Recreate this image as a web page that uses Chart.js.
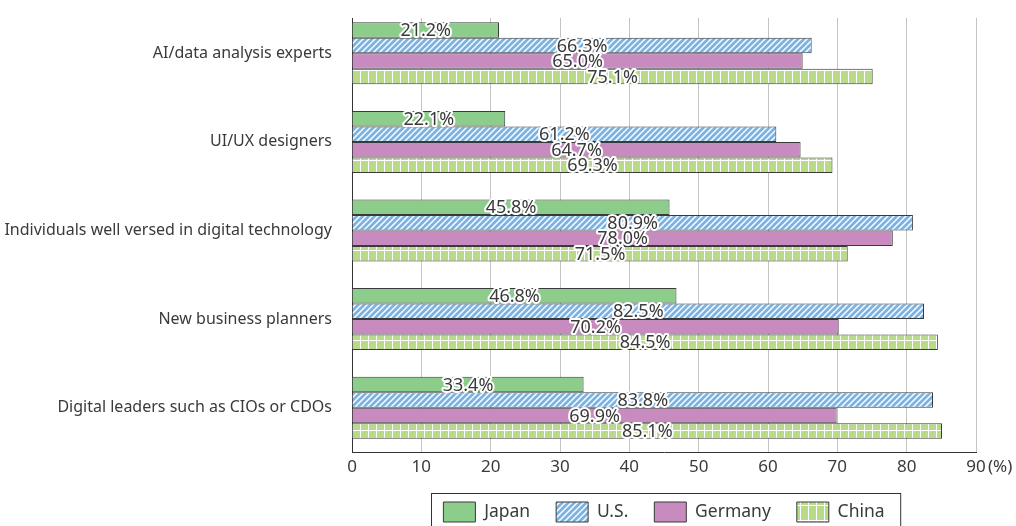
<!DOCTYPE html>
<html>
<head>
<meta charset="utf-8">
<script src="https://cdn.jsdelivr.net/npm/chart.js@4"></script>
<style>
  html, body { margin: 0; padding: 0; background: #fff; overflow: hidden; }
  #wrap { width: 1016px; height: 532px; }
</style>
</head>
<body>
<div id="wrap"><canvas id="chart"></canvas></div>
<script>
const categories = [
    "AI/data analysis experts",
    "UI/UX designers",
    "Individuals well versed in digital technology",
    "New business planners",
    "Digital leaders such as CIOs or CDOs",
];
const japan = [21.2, 22.1, 45.8, 46.8, 33.4];
const us = [66.3, 61.2, 80.9, 82.5, 83.8];
const germany = [65.0, 64.7, 78.0, 70.2, 69.9];
const china = [75.1, 69.3, 71.5, 84.5, 85.1];
const xTicks = [0, 10, 20, 30, 40, 50, 60, 70, 80, 90];

const FONT = "'Noto Sans', 'DejaVu Sans', sans-serif";
const TEXT = "#3a3a3a";

const ctx = document.getElementById("chart");
const c2d = ctx.getContext("2d");

// diagonal white hatching (U.S.)
function hatch(bg) {
    const c = document.createElement("canvas");
    c.width = 6;
    c.height = 6;
    const x = c.getContext("2d");
    x.fillStyle = bg;
    x.fillRect(0, 0, 6, 6);
    x.strokeStyle = "#fff";
    x.lineWidth = 1.5;
    x.beginPath();
    x.moveTo(-1, 7); x.lineTo(7, -1);
    x.moveTo(-1, 1); x.lineTo(1, -1);
    x.moveTo(5, 7); x.lineTo(7, 5);
    x.stroke();
    return c2d.createPattern(c, "repeat");
}

// white vertical strokes with one horizontal stroke (China)
function cells(bg) {
    const c = document.createElement("canvas");
    c.width = 8;
    c.height = 15;
    const x = c.getContext("2d");
    x.fillStyle = bg;
    x.fillRect(0, 0, 8, 15);
    x.fillStyle = "#fff";
    x.fillRect(0, 0, 1, 15);
    x.fillRect(0, 10, 8, 1);
    return c2d.createPattern(c, "repeat");
}

const dataLabels = {
    id: "dataLabels",
    afterDatasetsDraw(chart) {
        const g = chart.ctx;
        g.save();
        g.font = "18px " + FONT;
        g.textAlign = "center";
        g.textBaseline = "middle";
        g.lineJoin = "round";
        chart.data.datasets.forEach((ds, i) => {
            chart.getDatasetMeta(i).data.forEach((bar, j) => {
                const txt = ds.data[j].toFixed(1) + "%";
                const cx = (bar.base + bar.x) / 2;
                g.strokeStyle = "#fff";
                g.lineWidth = 4;
                g.strokeText(txt, cx, bar.y + 1);
                g.fillStyle = TEXT;
                g.fillText(txt, cx, bar.y + 1);
            });
        });
        g.restore();
    },
};

const extras = {
    id: "extras",
    beforeDatasetsDraw(chart) {
        // grid starts a little below the top of the plot
        const a = chart.chartArea;
        const g = chart.ctx;
        g.save();
        g.fillStyle = "#fff";
        g.fillRect(a.left - 2, a.top - 1, a.right - a.left + 4, 10);
        g.restore();
    },
    afterDraw(chart) {
        const g = chart.ctx;
        const xs = chart.scales.x;
        g.save();
        g.font = "17px " + FONT;
        g.fillStyle = TEXT;
        g.textBaseline = "middle";
        g.textAlign = "left";
        g.fillText("(%)", xs.getPixelForValue(90) + 12, xs.bottom - 9);
        // box around the legend
        const boxes = chart.legend.legendHitBoxes;
        if (boxes.length) {
            const l = Math.min(...boxes.map(b => b.left)) - 12;
            const r = Math.max(...boxes.map(b => b.left + b.width)) + 16;
            const t = boxes[0].top - 9;
            g.strokeStyle = "#333";
            g.lineWidth = 1;
            g.strokeRect(Math.round(l) + 0.5, Math.round(t) + 0.5, r - l, 60);
        }
        g.restore();
    },
};

new Chart(ctx, {
    type: "bar",
    data: {
        labels: categories,
        datasets: [
            { label: "Japan", data: japan, backgroundColor: "#8dcd8b" },
            { label: "U.S.", data: us, backgroundColor: hatch("#7ab2e2") },
            { label: "Germany", data: germany, backgroundColor: "#c88bbf" },
            { label: "China", data: china, backgroundColor: cells("#b9db89") },
        ].map(d => Object.assign(d, {
            borderColor: "#3a3a3a",
            borderWidth: 1,
            categoryPercentage: 0.7,
            barPercentage: 1,
        })),
    },
    options: {
        indexAxis: "y",
        responsive: true,
        maintainAspectRatio: false,
        animation: false,
        layout: { padding: { top: 9, right: 40, left: 0, bottom: 0 } },
        scales: {
            x: {
                min: 0,
                max: 90,
                afterBuildTicks(scale) {
                    scale.ticks = xTicks.map(v => ({ value: v }));
                },
                afterFit(scale) {
                    scale.height = 24;
                    scale.paddingLeft = 0;
                    scale.paddingRight = 0;
                },
                grid: { color: "#c4c4c4", lineWidth: 1, tickLength: 0 },
                border: { color: "#333", width: 1 },
                ticks: {
                    padding: 5,
                    color: TEXT,
                    font: { size: 17, family: FONT },
                },
            },
            y: {
                afterFit(scale) {
                    scale.width = 352;
                    scale.paddingTop = 0;
                    scale.paddingBottom = 0;
                },
                grid: { display: false },
                border: { color: "#333", width: 1 },
                ticks: {
                    padding: 12,
                    color: TEXT,
                    font: { size: 16, family: FONT },
                },
            },
        },
        plugins: {
            legend: {
                position: "bottom",
                fullSize: false,
                labels: {
                    boxWidth: 32,
                    boxHeight: 20,
                    padding: 26,
                    color: TEXT,
                    font: { size: 17.5, family: FONT },
                },
            },
            tooltip: { enabled: false },
        },
    },
    plugins: [dataLabels, extras],
});
</script>
</body>
</html>
